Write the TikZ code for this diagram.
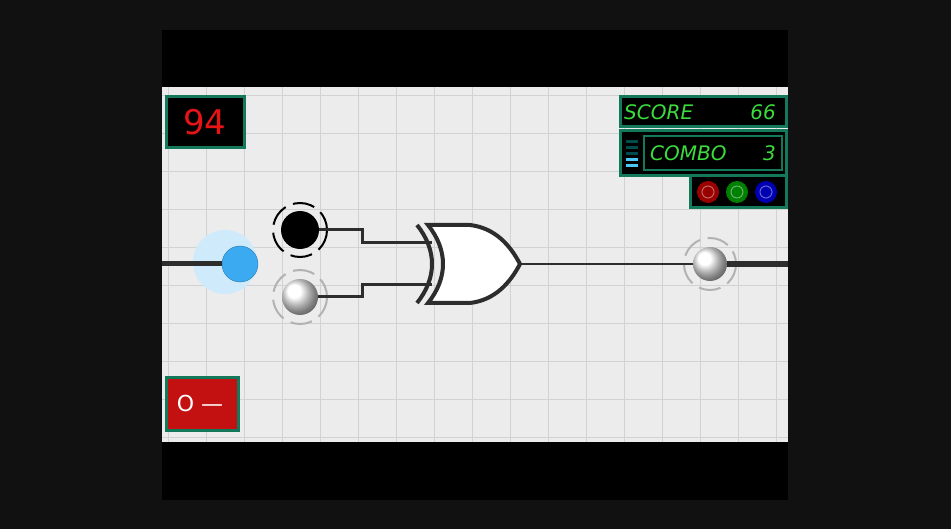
\documentclass[tikz,border=0pt]{standalone}
\usepackage{fontspec}
\setmainfont{DejaVu Sans}
\usetikzlibrary{positioning,calc}
\definecolor{frame}{RGB}{17,17,17}
\definecolor{paper}{RGB}{236,236,236}
\definecolor{gridline}{RGB}{210,210,210}
\definecolor{panelgreen}{RGB}{20,120,90}
\definecolor{lcdgreen}{RGB}{60,220,60}
\definecolor{lcdred}{RGB}{230,20,20}
\definecolor{wire}{RGB}{45,45,45}
\definecolor{glow}{RGB}{60,170,240}

\begin{document}
\begin{tikzpicture}[x=1pt,y=-1pt,
            panel/.style={draw=panelgreen, line width=3pt, fill=black},
            lcd/.style={font=\fontsize{20}{20}\selectfont\itshape, text=lcdgreen, inner sep=0pt},
            wireline/.style={draw=wire, line width=3pt},
            ring/.style={line width=2pt, dash pattern=on 22pt off 8pt}
        ]
            \useasboundingbox (0,0) rectangle (951,529);
            \fill[frame] (0,0) rectangle (951,529);
            \fill[black] (162,30) rectangle (788,500);
            \fill[paper] (162,87) rectangle (788,442);
            % grid
            \begin{scope}
                \clip (162,87) rectangle (788,442);
                \foreach \gx in {168,206,...,788} \draw[gridline] (\gx,87) -- (\gx,442);
                \foreach \gy in {95,133,...,442} \draw[gridline] (162,\gy) -- (788,\gy);
            \end{scope}

            % timer and switch
            \draw[panel] (166,97) rectangle (244,148);
            \node[text=lcdred, font=\fontsize{34}{34}\selectfont] (timer) at (205,122) {94};
            \draw[panel, fill=lcdred!85!black] (166,378) rectangle (238,430);
            \node[text=white, font=\fontsize{22}{22}\selectfont] (switch) at (200,403) {O —};

            % score panel
            \draw[panel] (620,97) rectangle (786,127);
            \node[lcd, anchor=west] (score) at (624,112) {SCORE};
            \node[lcd, anchor=east] (points) at (776,112) {66};
            \draw[panel] (620,131) rectangle (786,176);
            \draw[panel, line width=1.5pt] (644,136) rectangle (782,170);
            \node[lcd, anchor=west] (combo) at (650,153) {COMBO};
            \node[lcd, anchor=east] (streak) at (776,153) {3};
            \foreach \my/\mc in {140/teal!60!black,146/teal!60!black,152/teal!60!black,158/cyan!70,164/cyan!70}
                \fill[\mc] (626,\my) rectangle (638,\my+3);
            \draw[panel] (690,176) rectangle (786,208);
            \foreach \bx/\bc in {708/red!60!black,737/green!50!black,766/blue!70!black} {
                \fill[\bc] (\bx,192) circle (11);
                \draw[\bc!60!white, line width=1pt] (\bx,192) circle (6);
            }

            % input side
            \fill[glow!25] (225,262) circle (32);
            \coordinate (left) at (162,264);
            \node[circle, fill=glow, draw=glow!70!black, minimum size=36pt] (source) at (240,264) {};
            \draw[wireline, line width=5pt] (left) -- (source);
            \node[circle, fill=black, minimum size=38pt, inner sep=0pt] (ina) at (300,230) {};
            \draw[ring] (300,230) circle (27);
            \node[circle, ball color=white, shading=ball, minimum size=36pt, inner sep=0pt] (inb) at (300,297) {};
            \draw[ring, gray!60] (300,297) circle (27);

            % xor gate
            \coordinate (gatea) at (432,243);
            \coordinate (gateb) at (432,285);
            \draw[wire, line width=4pt] (417,225) .. controls (437,250) and (437,278) .. (417,303);
            \draw[wire, line width=4pt, fill=white] (428,225) -- (470,225) .. controls (495,228) and (510,245) .. (520,264)
                .. controls (510,283) and (495,300) .. (470,303) -- (428,303)
                .. controls (448,278) and (448,250) .. cycle;
            \node[inner sep=0pt] (gate) at (520,264) {};
            \draw[wireline] (ina) -- (362,230) |- (gatea);
            \draw[wireline] (inb) -- (362,297) |- (gateb);

            % output side
            \node[circle, ball color=white, minimum size=34pt, inner sep=0pt] (out) at (710,264) {};
            \draw[ring, gray!60] (710,264) circle (26);
            \coordinate (right) at (788,264);
            \draw[wireline, line width=2pt] (gate) -- (out);
            \draw[wireline, line width=6pt] (out) -- (right);
        \end{tikzpicture}
\end{document}
